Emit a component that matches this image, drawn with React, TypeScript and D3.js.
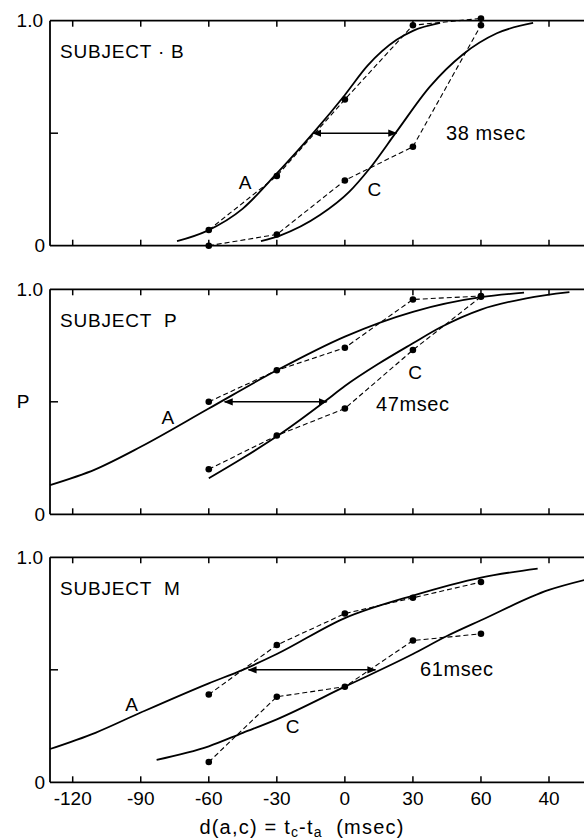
import React from "react";
import * as d3 from "d3";

// x tick values and their printed labels (last label printed as "40" in the original)
const xTickValues = [-120, -90, -60, -30, 0, 30, 60, 90];
const xTickLabels = ["-120", "-90", "-60", "-30", "0", "30", "60", "40"];
const delays = [-60, -30, 0, 30, 60];

const subjects = ["SUBJECT · B", "SUBJECT  P", "SUBJECT  M"];
const gapLabels = ["38 msec", "47msec", "61msec"];

// observed proportions (dashed)
const obsA_B = [0.07, 0.31, 0.65, 0.98, 1.01];
const obsC_B = [0.0, 0.05, 0.29, 0.44, 0.98];
const obsA_P = [0.5, 0.64, 0.74, 0.955, 0.97];
const obsC_P = [0.2, 0.35, 0.47, 0.73, 0.967];
const obsA_M = [0.39, 0.61, 0.75, 0.82, 0.89];
const obsC_M = [0.09, 0.38, 0.425, 0.63, 0.66];

// fitted curves: [delay, P]
const fitA_B: [number, number][] = [[-74, 0.02], [-61, 0.065], [-45, 0.165], [-31, 0.31], [-14, 0.5], [0, 0.67], [10, 0.8], [22.8, 0.915], [30, 0.955], [42, 0.99]];
const fitC_B: [number, number][] = [[-37, 0.02], [-28.6, 0.045], [-11, 0.136], [2, 0.24], [11, 0.344], [22.8, 0.507], [37.5, 0.707], [52, 0.85], [67, 0.944], [83, 0.99]];
const fitA_P: [number, number][] = [[-130, 0.13], [-110, 0.2], [-90, 0.3], [-60, 0.47], [-30, 0.64], [0, 0.79], [30, 0.9], [60, 0.965], [79, 0.985]];
const fitC_P: [number, number][] = [[-60, 0.16], [-45, 0.25], [-28, 0.36], [-9, 0.5], [0, 0.57], [15, 0.67], [30, 0.76], [42, 0.83], [60, 0.91], [80, 0.96], [99, 0.987]];
const fitA_M: [number, number][] = [[-130, 0.148], [-110, 0.22], [-90, 0.31], [-60, 0.44], [-45, 0.5], [-30, 0.57], [0, 0.73], [30, 0.83], [60, 0.91], [85, 0.95]];
const fitC_M: [number, number][] = [[-83, 0.1], [-60, 0.16], [-45, 0.22], [-30, 0.28], [0, 0.425], [30, 0.57], [45, 0.65], [60, 0.72], [90, 0.855], [106, 0.9]];

// arrow spans at P = 0.5 [from, to]
const arrowB = [-14, 22.7];
const arrowP = [-53, -8];
const arrowM = [-42.5, 13.5];

const panelTops = [20.7, 289.3, 557.3];
const panelH = 225;

const panels = [
  { title: subjects[0], obsA: obsA_B, obsC: obsC_B, fitA: fitA_B, fitC: fitC_B, arrow: arrowB, gap: gapLabels[0],
    aLab: [-44, 0.28], cLab: [13, 0.25], gapPos: [446, 0.5] },
  { title: subjects[1], obsA: obsA_P, obsC: obsC_P, fitA: fitA_P, fitC: fitC_P, arrow: arrowP, gap: gapLabels[1],
    aLab: [-78, 0.43], cLab: [31, 0.63], gapPos: [376, 0.49] },
  { title: subjects[2], obsA: obsA_M, obsC: obsC_M, fitA: fitA_M, fitC: fitC_M, arrow: arrowM, gap: gapLabels[2],
    aLab: [-94, 0.345], cLab: [-23, 0.25], gapPos: [420, 0.505] },
];

const FONT = "'Liberation Sans', Arial, sans-serif";

export default function App() {
  const W = 584, H = 839;
  const x = d3.scaleLinear().domain([-120, 90]).range([72.7, 549]);
  const leftX = 50;
  const rightX = 584;

  return (
    <svg width={W} height={H} style={{ position: "absolute", left: 0, top: 0, background: "#fff" }} fontFamily={FONT}>
      <defs>
        <marker id="ah" viewBox="0 0 10 10" refX="9" refY="5" markerWidth="9" markerHeight="9" markerUnits="userSpaceOnUse" orient="auto-start-reverse">
          <path d="M0,1 L10,5 L0,9 Z" fill="#000" />
        </marker>
      </defs>
      {panels.map((p, i) => {
        const top = panelTops[i];
        const y = d3.scaleLinear().domain([0, 1]).range([top + panelH, top]);
        const fitLine = d3.line<[number, number]>().x(d => x(d[0])).y(d => y(d[1])).curve(d3.curveMonotoneX);
        const obsLine = d3.line<number>().x((_, k) => x(delays[k])).y(d => y(d));
        return (
          <g key={i}>
            {/* frame */}
            <line x1={leftX} x2={rightX} y1={y(1)} y2={y(1)} stroke="#000" strokeWidth={1.8} />
            <line x1={leftX} x2={rightX} y1={y(0)} y2={y(0)} stroke="#000" strokeWidth={1.8} />
            <line x1={leftX} x2={leftX} y1={y(1)} y2={y(0)} stroke="#000" strokeWidth={1.8} />
            <line x1={leftX} x2={leftX + 8} y1={y(0.5)} y2={y(0.5)} stroke="#000" strokeWidth={1.5} />
            {xTickValues.map(v => (
              <g key={v}>
                <line x1={x(v)} x2={x(v)} y1={y(1)} y2={y(1) + 6} stroke="#000" strokeWidth={1.5} />
                <line x1={x(v)} x2={x(v)} y1={y(0)} y2={y(0) - 6} stroke="#000" strokeWidth={1.5} />
              </g>
            ))}
            <text x={43} y={y(1)} fontSize={19} textAnchor="end" dominantBaseline="central">1.0</text>
            <text x={45} y={y(0)} fontSize={19} textAnchor="end" dominantBaseline="central">0</text>
            {i === 1 && <text x={23} y={y(0.5)} fontSize={19} textAnchor="middle" dominantBaseline="central">P</text>}
            <text x={60} y={top + 31} fontSize={19} letterSpacing={0.8} dominantBaseline="central" style={{ whiteSpace: "pre" }}>{p.title}</text>
            {/* fitted curves */}
            <path d={fitLine(p.fitA) || ""} fill="none" stroke="#000" strokeWidth={1.8} />
            <path d={fitLine(p.fitC) || ""} fill="none" stroke="#000" strokeWidth={1.8} />
            {/* observed */}
            <path d={obsLine(p.obsA) || ""} fill="none" stroke="#000" strokeWidth={1.1} strokeDasharray="5,3" />
            <path d={obsLine(p.obsC) || ""} fill="none" stroke="#000" strokeWidth={1.1} strokeDasharray="5,3" />
            {p.obsA.map((v, k) => <circle key={"a" + k} cx={x(delays[k])} cy={y(v)} r={3.3} fill="#000" />)}
            {p.obsC.map((v, k) => <circle key={"c" + k} cx={x(delays[k])} cy={y(v)} r={3.3} fill="#000" />)}
            {/* arrow */}
            <line x1={x(p.arrow[0])} x2={x(p.arrow[1])} y1={y(0.5)} y2={y(0.5)} stroke="#000" strokeWidth={1.4}
              markerStart="url(#ah)" markerEnd="url(#ah)" />
            {/* labels */}
            <text x={x(p.aLab[0])} y={y(p.aLab[1])} fontSize={19} textAnchor="middle" dominantBaseline="central">A</text>
            <text x={x(p.cLab[0])} y={y(p.cLab[1])} fontSize={19} textAnchor="middle" dominantBaseline="central">C</text>
            <text x={p.gapPos[0]} y={y(p.gapPos[1])} fontSize={20} letterSpacing={0.6} dominantBaseline="central">{p.gap}</text>
          </g>
        );
      })}
      {xTickValues.map((v, k) => (
        <text key={v} x={x(v)} y={798} fontSize={19} textAnchor="middle" dominantBaseline="central">{xTickLabels[k]}</text>
      ))}
      <text x={302} y={827} fontSize={20} letterSpacing={1.2} textAnchor="middle" dominantBaseline="central" style={{ whiteSpace: "pre" }}>
        d(a,c) = t<tspan fontSize={14} dy={5}>c</tspan><tspan dy={-5}>-t</tspan><tspan fontSize={14} dy={5}>a</tspan><tspan dy={-5}>  (msec)</tspan>
      </text>
    </svg>
  );
}
